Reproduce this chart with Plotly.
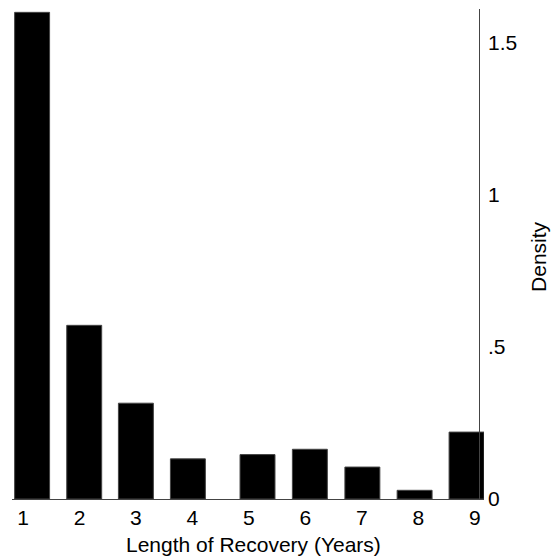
import plotly.graph_objects as go

# Data
bin_centers = [1.161, 2.084, 2.999, 3.92, 5.153, 6.08, 7.01, 7.935, 8.855]
density = [1.600, 0.571, 0.315, 0.132, 0.146, 0.1635, 0.105, 0.0286, 0.220]
bar_width = 0.619
x_ticks = [1, 2, 3, 4, 5, 6, 7, 8, 9]
y_tickvals = [0, 0.5, 1, 1.5]
y_ticktext = ["0", ".5", "1", "1.5"]

fig = go.Figure(
    go.Bar(
        x=bin_centers,
        y=density,
        width=bar_width,
        marker=dict(color="black", line=dict(color="#444", width=1)),
    )
)

fnt = "Liberation Sans, Arial, sans-serif"

fig.update_layout(
    width=551,
    height=556,
    margin=dict(l=12, r=67, t=9, b=57),
    plot_bgcolor="white",
    paper_bgcolor="white",
    showlegend=False,
    font=dict(family=fnt, size=21, color="black"),
    xaxis=dict(
        range=[0.805, 9.164],
        tickvals=x_ticks,
        ticktext=[str(v) for v in x_ticks],
        showgrid=False,
        zeroline=False,
        showline=True,
        linecolor="#444",
        linewidth=1,
        ticks="",
        automargin=False,
        tickfont=dict(size=21),
    ),
    yaxis=dict(
        range=[0, 1.611],
        tickvals=y_tickvals,
        ticktext=y_ticktext,
        side="right",
        anchor="free",
        position=0.989,
        showgrid=False,
        zeroline=False,
        showline=True,
        linecolor="#444",
        linewidth=1,
        ticks="",
        automargin=False,
        ticklabelstandoff=4,
        tickfont=dict(size=21),
    ),
    annotations=[
        dict(
            text="Length of Recovery (Years)",
            xref="paper", yref="paper", x=0.511, y=0,
            yshift=-45, xanchor="center", yanchor="middle",
            showarrow=False, font=dict(family=fnt, size=21, color="black"),
        ),
        dict(
            text="Density",
            xref="paper", yref="paper", x=1.1165, y=0.496,
            xanchor="center", yanchor="middle", textangle=-90,
            showarrow=False, font=dict(family=fnt, size=21, color="black"),
        ),
    ],
)

fig.write_html(
    "out.html",
    config={"displayModeBar": False},
    post_script="document.body.style.margin='0';document.body.style.overflow='hidden';",
)
